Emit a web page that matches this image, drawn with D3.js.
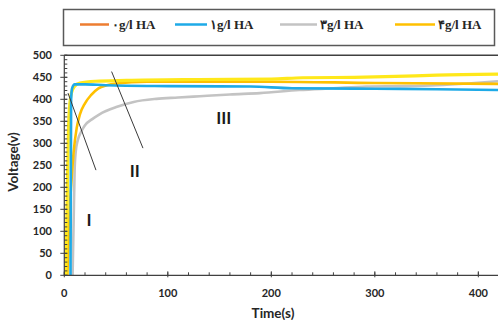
<!DOCTYPE html>
<html>
<head>
<meta charset="utf-8">
<script src="https://cdn.jsdelivr.net/npm/d3@7"></script>
<style>
  body { margin: 0; background: #fff; }
  svg { display: block; }
  .tick-label { font-family: Lato, "Open Sans", sans-serif; font-weight: 700; font-size: 11px; fill: #262626; }
  .axis-title { font-family: Lato, "Open Sans", sans-serif; font-weight: 700; font-size: 13.5px; fill: #262626; }
  .legend-label { font-family: "Liberation Serif", "DejaVu Serif", serif; font-weight: 700; font-size: 13px; fill: #262626; }
  .region { font-family: Lato, "Open Sans", sans-serif; font-weight: 700; font-size: 17px; fill: #1a1a1a; }
</style>
</head>
<body>
<div id="chart"></div>
<script>
// legend
const legendLabels = ["۰g/l HA", "۱g/l HA", "۳g/l HA", "۴g/l HA"];
const legendColors = ["#ED7D31", "#1EAAE7", "#C3C3C3", "#FFC000"];

// series, [time (s), voltage (v)]
const yellowData = [[1.5,0],[3,200],[4,330],[5,380],[7,415],[10,430],[15,437],[30,441],[60,443],[130,445],[200,446],[230,449],[280,450],[320,452],[360,455],[419,457]];
const amberData = [[3,0],[5,140],[7,216],[9,280],[12,335],[15,365],[20,391],[26,410],[33,425],[41,432],[50,436],[80,440],[200,440],[300,437],[419,435]];
const grayData = [[8,0],[9,120],[10,240],[11,280],[13,307],[16,325],[20,341],[27,355],[34,366],[51,383],[67,394],[89,401],[110,404],[131,407],[160,411],[189,414],[227,421],[260,425],[292,429],[330,430],[360,432],[390,436],[419,441]];
const blueData = [[6,0],[6.3,200],[6.6,400],[7.5,425],[10,434],[20,434],[40,432],[100,430],[180,429],[220,425],[300,424],[360,423],[419,421]];
const seriesOrder = [grayData, amberData, yellowData, blueData];
const seriesColors = ["#C3C3C3", "#FFC000", "#FFE81A", "#1EAAE7"];
const seriesWidths = [2.6, 2.6, 3.2, 2.6];

// annotation lines and region labels (data coords)
const pointerLines = [[[3.6,414],[30.6,239]], [[45.7,463],[76,289]]];
const regionLabels = [["I",24,121],["II",68,233],["III",154,353]];

const xTicks = [0, 100, 200, 300, 400];
const yTicks = [0, 50, 100, 150, 200, 250, 300, 350, 400, 450, 500];

const W = 498, H = 320;
const pLeft = 64.3, pRight = 498, pTop = 55.3, pBottom = 275.3;

const svg = d3.select("#chart").append("svg").attr("width", W).attr("height", H);

const x = d3.scaleLinear().domain([0, 419]).range([pLeft, pRight]);
const y = d3.scaleLinear().domain([0, 500]).range([pBottom, pTop]);

// legend box
svg.append("rect")
  .attr("x", 63.5).attr("y", 9.5).attr("width", 431).attr("height", 36)
  .attr("fill", "none").attr("stroke", "#595959").attr("stroke-width", 1.5);

const legendX = [80, 175, 280, 395];
const legendW = [29, 32, 37, 40];
const lg = svg.append("g").selectAll("g").data(legendLabels).enter().append("g");
lg.append("line")
  .attr("x1", (d, i) => legendX[i]).attr("x2", (d, i) => legendX[i] + legendW[i])
  .attr("y1", 24.5).attr("y2", 24.5)
  .attr("stroke", (d, i) => legendColors[i]).attr("stroke-width", 2.5);
lg.append("text")
  .attr("class", "legend-label")
  .attr("x", (d, i) => legendX[i] + legendW[i] + 3).attr("y", 29)
  .text(d => d);

// frame top
svg.append("line").attr("x1", pLeft).attr("x2", pRight).attr("y1", pTop).attr("y2", pTop)
  .attr("stroke", "#404040").attr("stroke-width", 1.5);

// clip
svg.append("clipPath").attr("id", "plot").append("rect")
  .attr("x", pLeft).attr("y", pTop).attr("width", pRight - pLeft).attr("height", pBottom - pTop + 1);

const line = d3.line().x(d => x(d[0])).y(d => y(d[1])).curve(d3.curveMonotoneX);
svg.append("g").attr("clip-path", "url(#plot)")
  .selectAll("path").data(seriesOrder).enter().append("path")
  .attr("d", line)
  .attr("fill", "none")
  .attr("stroke", (d, i) => seriesColors[i])
  .attr("stroke-width", (d, i) => seriesWidths[i])
  .attr("stroke-linejoin", "round");

// pointer lines
svg.append("g").selectAll("line").data(pointerLines).enter().append("line")
  .attr("x1", d => x(d[0][0])).attr("y1", d => y(d[0][1]))
  .attr("x2", d => x(d[1][0])).attr("y2", d => y(d[1][1]))
  .attr("stroke", "#3a3a3a").attr("stroke-width", 1);

svg.append("g").selectAll("text").data(regionLabels).enter().append("text")
  .attr("class", "region")
  .attr("x", d => x(d[1])).attr("y", d => y(d[2]))
  .attr("text-anchor", "middle").attr("dominant-baseline", "middle")
  .text(d => d[0]);

// axes
const axisColor = "#404040";
const ax = svg.append("g");
ax.append("line").attr("x1", pLeft).attr("x2", pLeft).attr("y1", pTop).attr("y2", pBottom)
  .attr("stroke", axisColor).attr("stroke-width", 1.2);
ax.append("line").attr("x1", pLeft).attr("x2", pRight).attr("y1", pBottom).attr("y2", pBottom)
  .attr("stroke", axisColor).attr("stroke-width", 1.2);

// y minor ticks
ax.selectAll(".ymin").data(d3.range(0, 501, 10)).enter().append("line")
  .attr("x1", pLeft).attr("x2", pLeft + 3)
  .attr("y1", d => y(d)).attr("y2", d => y(d))
  .attr("stroke", axisColor).attr("stroke-width", 1);
ax.selectAll(".ymaj").data(yTicks).enter().append("line")
  .attr("x1", pLeft - 4).attr("x2", pLeft + 3)
  .attr("y1", d => y(d)).attr("y2", d => y(d))
  .attr("stroke", axisColor).attr("stroke-width", 1);
ax.selectAll(".ylab").data(yTicks).enter().append("text")
  .attr("class", "tick-label")
  .attr("x", 52).attr("y", d => y(d) + 4)
  .attr("text-anchor", "end")
  .text(d => d);

// x ticks
ax.selectAll(".xmin").data(d3.range(0, 419, 20)).enter().append("line")
  .attr("x1", d => x(d)).attr("x2", d => x(d))
  .attr("y1", pBottom - 3).attr("y2", pBottom)
  .attr("stroke", axisColor).attr("stroke-width", 1);
ax.selectAll(".xmaj").data(xTicks).enter().append("line")
  .attr("x1", d => x(d)).attr("x2", d => x(d))
  .attr("y1", pBottom - 4).attr("y2", pBottom + 2)
  .attr("stroke", axisColor).attr("stroke-width", 1);
ax.selectAll(".xlab").data(xTicks).enter().append("text")
  .attr("class", "tick-label")
  .attr("x", d => x(d)).attr("y", 297)
  .attr("text-anchor", "middle")
  .text(d => d);

svg.append("text").attr("class", "axis-title")
  .attr("x", 273).attr("y", 318).attr("text-anchor", "middle")
  .text("Time(s)");
svg.append("text").attr("class", "axis-title")
  .attr("transform", "translate(18,162) rotate(-90)")
  .attr("text-anchor", "middle")
  .text("Voltage(v)");
</script>
</body>
</html>
